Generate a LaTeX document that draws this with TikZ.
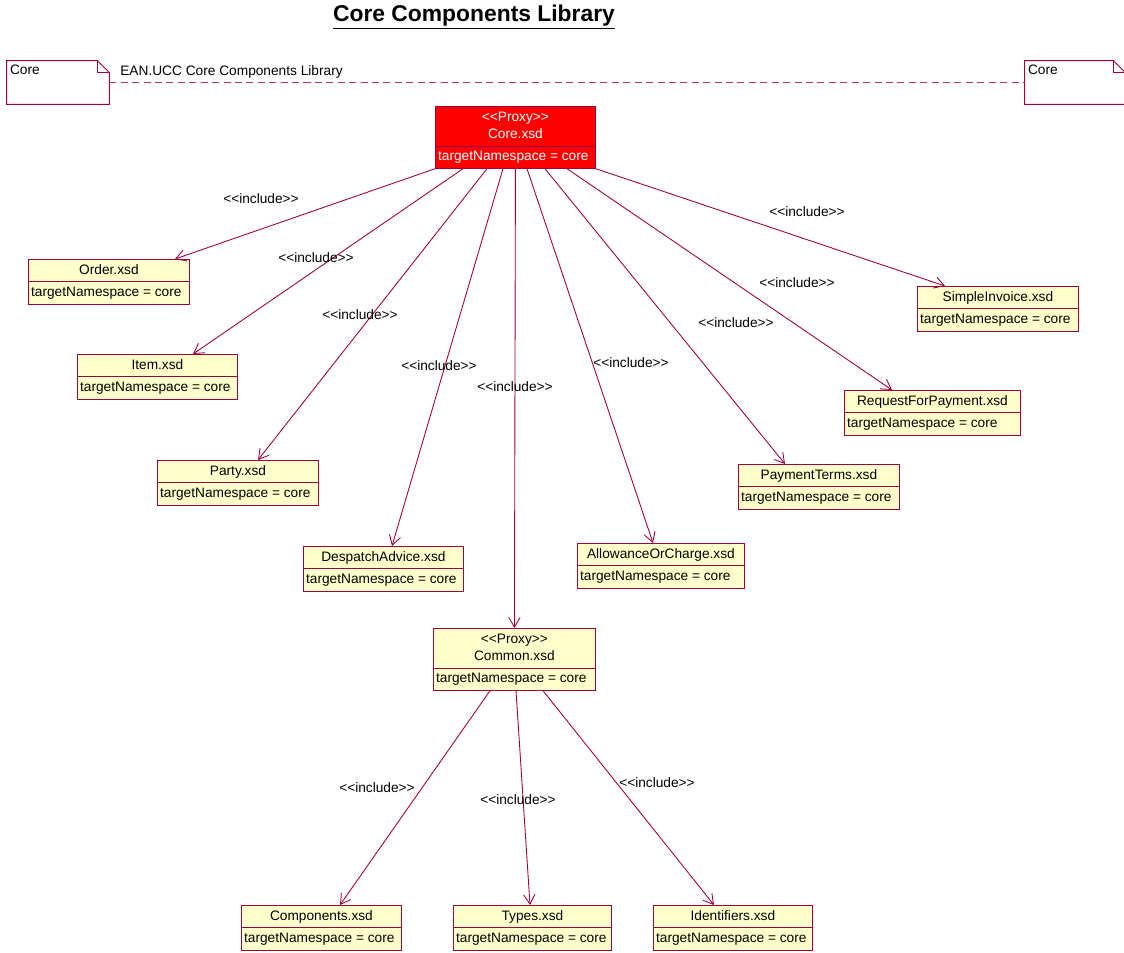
\documentclass[tikz,border=0pt]{standalone}
\usepackage{fontspec}
\setmainfont{Liberation Sans}
\usetikzlibrary{shapes.multipart}
\usetikzlibrary{arrows.meta}
\definecolor{umlred}{RGB}{160,0,60}
\definecolor{umlyellow}{RGB}{255,255,204}
\newcommand{\umlfont}{\fontsize{7.8}{9.8}\selectfont}
\tikzset{>={Straight Barb[length=5.5pt,width=6.5pt]}}
\tikzset{xsd/.style={rectangle split, rectangle split parts=2,
    rectangle split part align={center,left}, draw=umlred, fill=umlyellow,
    line width=.5pt, inner xsep=1.5pt, inner ysep=1.2pt, anchor=north west,
    align=center, font=\umlfont}}
\tikzset{incl/.style={->, umlred, line width=.5pt}}
\tikzset{stereo/.style={font=\umlfont, inner sep=0pt}}

\begin{document}
\begin{tikzpicture}[x=0.02cm, y=-0.02cm]
    \useasboundingbox (0, 0) rectangle (1124, 952);
    \node[font=\fontsize{13}{15}\selectfont\bfseries] (title) at (474, 17){\underline{Core Components Library}};
    % package notes
    \node[minimum width=2.04cm, minimum height=0.86cm, inner sep=0pt] (noteL) at (58, 82.5){};
    \node[minimum width=2.0cm, minimum height=0.86cm, inner sep=0pt] (noteR) at (1075, 82.5){};
    \foreach \n in {noteL, noteR}{
        \draw[umlred, line width=.5pt, fill=white](\n.south west)--(\n.north west)--([shift={(-12, 0)}]\n.north east)
            --([shift={(0, 12)}]\n.north east)--(\n.south east)--cycle;
        \draw[umlred, line width=.5pt]([shift={(-12, 0)}]\n.north east)--([shift={(-12, 12)}]\n.north east)--([shift={(0, 12)}]\n.north east);
        \node[font=\umlfont, anchor=north west, inner sep=0pt] (\n text) at ([shift={(3, 4)}]\n.north west){Core};
    }
    \draw[umlred!80, line width=.5pt, dash pattern=on 4pt off 2.5pt](noteL.east)--(noteR.west);
    \node[font=\umlfont, anchor=west, inner sep=0pt] (lib) at (120, 72){EAN.UCC Core Components Library};
    % xsd files
    \node[xsd, fill=red, text=white, minimum width=3.2cm] (core) at (435, 106){\strut<{}<Proxy>{}>\\\strut Core.xsd \nodepart{two}\strut targetNamespace = core};
    \node[xsd, minimum width=3.22cm] (order) at (28, 259){\strut Order.xsd \nodepart{two}\strut targetNamespace = core};
    \node[xsd, minimum width=3.2cm] (item) at (77, 354){\strut Item.xsd \nodepart{two}\strut targetNamespace = core};
    \node[xsd, minimum width=3.22cm] (party) at (157, 460){\strut Party.xsd \nodepart{two}\strut targetNamespace = core};
    \node[xsd, minimum width=3.2cm] (despatch) at (303, 546){\strut DespatchAdvice.xsd \nodepart{two}\strut targetNamespace = core};
    \node[xsd, minimum width=3.34cm] (allowance) at (577, 543){\strut AllowanceOrCharge.xsd \nodepart{two}\strut targetNamespace = core};
    \node[xsd, minimum width=3.22cm] (payment) at (738, 464){\strut PaymentTerms.xsd \nodepart{two}\strut targetNamespace = core};
    \node[xsd, minimum width=3.52cm] (request) at (844, 390){\strut RequestForPayment.xsd \nodepart{two}\strut targetNamespace = core};
    \node[xsd, minimum width=3.22cm] (simple) at (917, 286){\strut SimpleInvoice.xsd \nodepart{two}\strut targetNamespace = core};
    \node[xsd, minimum width=3.24cm] (common) at (433, 628){\strut<{}<Proxy>{}>\\\strut Common.xsd \nodepart{two}\strut targetNamespace = core};
    \node[xsd, minimum width=3.2cm] (components) at (241, 905){\strut Components.xsd \nodepart{two}\strut targetNamespace = core};
    \node[xsd, minimum width=3.16cm] (types) at (453, 905){\strut Types.xsd \nodepart{two}\strut targetNamespace = core};
    \node[xsd, minimum width=3.18cm] (identifiers) at (653, 905){\strut Identifiers.xsd \nodepart{two}\strut targetNamespace = core};
    % include dependencies
    \draw[incl](core.south west)--([shift={(147, 0)}]order.north west);
    \draw[incl]([shift={(28, 0)}]core.south west)--([shift={(116, 0)}]item.north west);
    \draw[incl]([shift={(52, 0)}]core.south west)--([shift={(101, 0)}]party.north west);
    \draw[incl]([shift={(68, 0)}]core.south west)--([shift={(89, 0)}]despatch.north west);
    \draw[incl](core.south)--(common.north);
    \draw[incl]([shift={(92, 0)}]core.south west)--([shift={(76, 0)}]allowance.north west);
    \draw[incl]([shift={(110, 0)}]core.south west)--([shift={(47, 0)}]payment.north west);
    \draw[incl]([shift={(132, 0)}]core.south west)--([shift={(48, 0)}]request.north west);
    \draw[incl](core.south east)--([shift={(28, 0)}]simple.north west);
    \draw[incl]([shift={(57, 0)}]common.south west)--([shift={(99, 0)}]components.north west);
    \draw[incl]([shift={(83, 0)}]common.south west)--([shift={(77, 0)}]types.north west);
    \draw[incl]([shift={(110, 0)}]common.south west)--([shift={(61, 0)}]identifiers.north west);
    \node[stereo] (s1) at (261, 199){<{}<include>{}>};
    \node[stereo] (s2) at (316, 258){<{}<include>{}>};
    \node[stereo] (s3) at (360, 315){<{}<include>{}>};
    \node[stereo] (s4) at (439, 366){<{}<include>{}>};
    \node[stereo] (s5) at (515, 387){<{}<include>{}>};
    \node[stereo] (s6) at (631, 363){<{}<include>{}>};
    \node[stereo] (s7) at (736, 323){<{}<include>{}>};
    \node[stereo] (s8) at (797, 283){<{}<include>{}>};
    \node[stereo] (s9) at (807, 212){<{}<include>{}>};
    \node[stereo] (s10) at (377, 788){<{}<include>{}>};
    \node[stereo] (s11) at (518, 800){<{}<include>{}>};
    \node[stereo] (s12) at (657, 783){<{}<include>{}>};
\end{tikzpicture}
\end{document}
